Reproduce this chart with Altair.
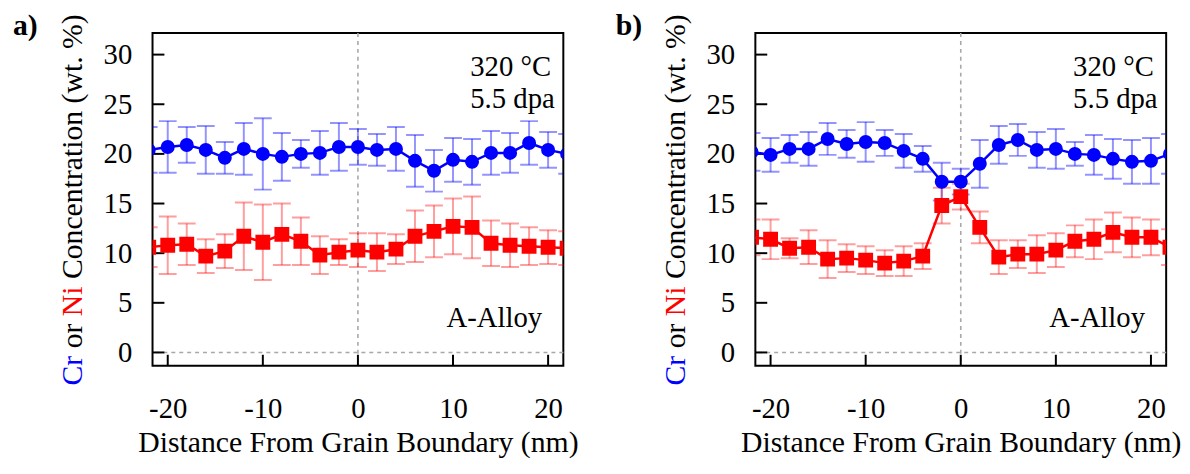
import altair as alt
import pandas as pd

# ---- data ----
x_nm = [-22, -20, -18, -16, -14, -12, -10, -8, -6, -4, -2, 0,
        2, 4, 6, 8, 10, 12, 14, 16, 18, 20, 22]

a_cr = [20.4, 20.7, 20.9, 20.4, 19.6, 20.5, 20.0, 19.7, 20.0, 20.1, 20.7, 20.7,
        20.4, 20.5, 19.3, 18.3, 19.4, 19.2, 20.1, 20.1, 21.1, 20.4, 20.0]
a_cr_err = [2.3, 2.6, 1.8, 2.4, 1.6, 2.6, 3.6, 2.4, 1.4, 2.2, 2.4, 1.8,
            1.6, 2.2, 2.6, 2.1, 2.2, 2.3, 2.2, 2.0, 2.2, 1.8, 2.0]
a_ni = [10.6, 10.8, 10.9, 9.7, 10.2, 11.7, 11.1, 11.9, 11.2, 9.8, 10.1, 10.3,
        10.1, 10.4, 11.7, 12.2, 12.7, 12.6, 11.0, 10.8, 10.7, 10.6, 10.5]
a_ni_err = [2.0, 2.9, 2.1, 1.7, 1.7, 3.4, 3.8, 3.1, 2.4, 1.9, 1.3, 1.7,
            1.9, 1.5, 2.6, 2.6, 2.8, 3.1, 2.3, 2.2, 1.9, 1.7, 1.7]

b_cr = [20.2, 19.9, 20.5, 20.5, 21.5, 21.0, 21.2, 21.1, 20.3, 19.5, 17.2, 17.2,
        19.0, 20.9, 21.4, 20.4, 20.5, 20.0, 19.9, 19.5, 19.2, 19.3, 20.0]
b_cr_err = [1.9, 1.7, 1.4, 1.7, 1.6, 1.4, 2.0, 1.3, 1.7, 1.3, 1.9, 1.3,
            2.4, 1.9, 1.6, 1.8, 2.0, 1.2, 2.0, 2.0, 2.2, 2.3, 2.0]
b_ni = [11.6, 11.4, 10.5, 10.6, 9.4, 9.5, 9.3, 9.0, 9.2, 9.7, 14.8, 15.7,
        12.6, 9.6, 9.9, 9.9, 10.3, 11.2, 11.4, 12.1, 11.6, 11.6, 10.6]
b_ni_err = [1.8, 2.0, 1.0, 1.7, 1.9, 1.4, 1.4, 1.3, 1.5, 1.3, 1.8, 1.3,
            1.6, 1.7, 1.4, 1.9, 1.7, 1.6, 2.0, 2.0, 2.0, 1.8, 1.8]

x_ticks = [-20, -10, 0, 10, 20]
y_ticks = [0, 5, 10, 15, 20, 25, 30]

W, H = 415, 336
FONT = "Liberation Serif"
BLUE, RED = "#0000ff", "#ff0000"

xs = alt.Scale(domain=[-21.6, 21.6], nice=False, zero=False)
ys = alt.Scale(domain=[-1.33, 32.17], nice=False, zero=False)

x_axis = alt.Axis(values=x_ticks, ticks=False, tickSize=0, domain=False, grid=False,
                  labelExpr="'' + datum.value",
                  labelFont=FONT, labelFontSize=29, labelColor="black", labelPadding=29,
                  labelFlush=False, title="Distance From Grain Boundary (nm)",
                  titleFont=FONT, titleFontSize=30, titleFontWeight="normal",
                  titleColor="black", titlePadding=5)
y_axis = alt.Axis(values=y_ticks, ticks=False, tickSize=0, domain=False, grid=False,
                  labelFont=FONT, labelFontSize=29, labelColor="black", labelPadding=21,
                  title=None)


def panel(cr, cr_err, ni, ni_err, tag):
    df = pd.DataFrame({"x": x_nm, "cr": cr, "cr_err": cr_err, "ni": ni, "ni_err": ni_err})
    df["cr_lo"] = df["cr"] - df["cr_err"]
    df["cr_hi"] = df["cr"] + df["cr_err"]
    df["ni_lo"] = df["ni"] - df["ni_err"]
    df["ni_hi"] = df["ni"] + df["ni_err"]
    base = alt.Chart(df)
    one = alt.Chart(pd.DataFrame({"v": [0]}))

    layers = []
    # zero reference lines
    layers.append(one.mark_rule(color="#a8a8a8", strokeWidth=1.6, strokeDash=[4, 4]).encode(
        x=alt.X("v:Q", scale=xs, axis=x_axis)))
    layers.append(one.mark_rule(color="#a8a8a8", strokeWidth=1.6, strokeDash=[4, 4]).encode(
        y=alt.Y("v:Q", scale=ys, axis=y_axis)))
    # inward ticks
    layers.append(alt.Chart(pd.DataFrame({"v": y_ticks})).mark_rule(color="black", strokeWidth=2).encode(
        y=alt.Y("v:Q", scale=ys), x=alt.value(0), x2=alt.value(12)))
    layers.append(alt.Chart(pd.DataFrame({"v": x_ticks})).mark_rule(color="black", strokeWidth=2).encode(
        x=alt.X("v:Q", scale=xs), y=alt.value(H), y2=alt.value(H - 11)))

    for col, color, op in [("cr", BLUE, 0.42), ("ni", RED, 0.38)]:
        layers.append(base.mark_rule(color=color, opacity=op, strokeWidth=2, clip=True).encode(
            x=alt.X("x:Q", scale=xs), y=alt.Y(col + "_lo:Q", scale=ys), y2=col + "_hi:Q"))
        for end in ["_lo", "_hi"]:
            layers.append(base.mark_tick(color=color, opacity=op, orient="horizontal", size=18,
                                         thickness=2, clip=True).encode(
                x=alt.X("x:Q", scale=xs), y=alt.Y(col + end + ":Q", scale=ys)))

    layers.append(base.mark_line(color=BLUE, strokeWidth=2.5, clip=True).encode(
        x=alt.X("x:Q", scale=xs), y=alt.Y("cr:Q", scale=ys)))
    layers.append(base.mark_point(shape="circle", filled=True, opacity=1, color=BLUE, size=200,
                                  clip=True).encode(
        x=alt.X("x:Q", scale=xs), y=alt.Y("cr:Q", scale=ys)))
    layers.append(base.mark_line(color=RED, strokeWidth=2.5, clip=True).encode(
        x=alt.X("x:Q", scale=xs), y=alt.Y("ni:Q", scale=ys)))
    layers.append(base.mark_point(shape="square", filled=True, opacity=1, color=RED, size=225,
                                  clip=True).encode(
        x=alt.X("x:Q", scale=xs), y=alt.Y("ni:Q", scale=ys)))

    # annotations
    def txt(s, x, y, size=29, color="black", weight="normal", angle=0, align="left"):
        return one.mark_text(text=s, font=FONT, fontSize=size, color=color, fontWeight=weight,
                             angle=angle, align=align, baseline="alphabetic").encode(
            x=alt.value(x), y=alt.value(y))

    layers.append(txt("320 °C", 321, 43))
    layers.append(txt("5.5 dpa", 321, 76))
    layers.append(txt("A-Alloy", 297, 297))
    layers.append(txt(tag, -141, 2, size=30, weight="bold"))
    # y-axis title with coloured element names
    layers.append(txt("Cr", -71, 356, size=30, color=BLUE, angle=270))
    layers.append(txt("or", -71, 318.5, size=30, angle=270))
    layers.append(txt("Ni", -71, 286, size=30, color=RED, angle=270))
    layers.append(txt("Concentration (wt. %)", -71, 248.5, size=30, angle=270))

    return alt.layer(*layers).properties(width=W, height=H)


chart = alt.hconcat(
    panel(a_cr, a_cr_err, a_ni, a_ni_err, "a)"),
    panel(b_cr, b_cr_err, b_ni, b_ni_err, "b)"),
    spacing=36,
).properties(
    padding={"left": 4, "top": 0, "right": 0, "bottom": 0},
    background="white",
).configure_view(
    stroke="black", strokeWidth=2
)

chart.save("out.html", embed_options={"renderer": "svg", "actions": False})
